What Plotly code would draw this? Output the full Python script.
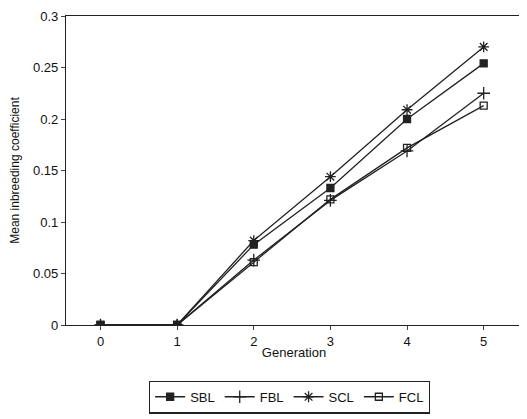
import plotly.graph_objects as go

generations = [0, 1, 2, 3, 4, 5]
sbl = [0, 0, 0.078, 0.133, 0.200, 0.254]
fbl = [0, 0, 0.063, 0.121, 0.169, 0.225]
scl = [0, 0, 0.082, 0.144, 0.209, 0.270]
fcl = [0, 0, 0.061, 0.122, 0.172, 0.213]
y_ticks = [0, 0.05, 0.1, 0.15, 0.2, 0.25, 0.3]
y_ticktext = ["0", "0.05", "0.1", "0.15", "0.2", "0.25", "0.3"]

fig = go.Figure()
series = [
    ("SBL", sbl, "square", 7),
    ("FBL", fbl, "cross-thin", 9),
    ("SCL", scl, "asterisk", 9),
    ("FCL", fcl, "square-open", 7),
]
for name, vals, sym, sz in series:
    fig.add_trace(go.Scatter(
        x=generations, y=vals, name=name, mode="lines+markers",
        line=dict(color="#222222", width=1.3),
        marker=dict(symbol=sym, size=sz, color="#222222",
                    line=dict(color="#222222", width=1.3)),
    ))

# page body has an 8px margin, so the figure is sized to fit the window
fig.update_layout(
    width=519, height=411,
    margin=dict(l=58, r=5, t=8, b=92),
    paper_bgcolor="white", plot_bgcolor="white",
    font=dict(family="Liberation Sans, Arial, sans-serif", size=13, color="#111111"),
    showlegend=True,
    legend=dict(orientation="h", x=0.49, xanchor="center", y=-0.18, yanchor="top",
                bordercolor="#222222", borderwidth=1.2, font=dict(size=13),
                tracegroupgap=0),
)
fig.update_xaxes(
    range=[-0.45, 5.5], tickvals=generations, ticks="outside", ticklen=4,
    showline=True, linecolor="#222222", linewidth=1.3, mirror=True,
    showgrid=False, zeroline=False, automargin=False,
    title=dict(text="Generation", standoff=0, font=dict(size=13)),
)
fig.update_yaxes(
    range=[0, 0.3], tickvals=y_ticks, ticktext=y_ticktext, ticks="outside", ticklen=4,
    showline=True, linecolor="#222222", linewidth=1.3, mirror=True,
    showgrid=False, zeroline=False, automargin=False, ticklabeloverflow="allow",
    title=dict(text="Mean inbreeding coefficient", standoff=14, font=dict(size=12)),
)
fig.write_html("out.html")
